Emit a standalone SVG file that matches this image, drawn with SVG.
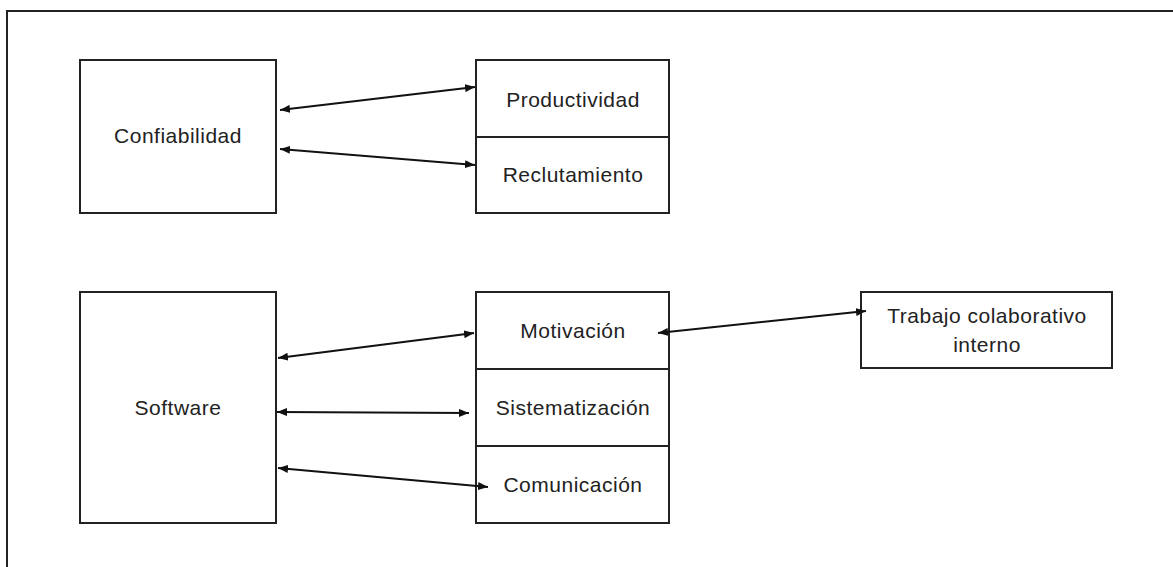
<svg xmlns="http://www.w3.org/2000/svg" width="1173" height="567" viewBox="0 0 1173 567">
  <defs>
    <style>
      .box { fill: #ffffff; stroke: #222222; stroke-width: 2; }
      .div { stroke: #222222; stroke-width: 2; }
      .frame { fill: none; stroke: #222222; stroke-width: 2; }
      .lbl { font-family: "Liberation Sans", Arial, sans-serif; font-size: 21px; letter-spacing: 0.5px; fill: #222222; text-anchor: middle; }
      .conn { stroke: #111111; stroke-width: 2; fill: none; marker-start: url(#tip); marker-end: url(#tip); }
    </style>
    <marker id="tip" viewBox="0 0 10 8" refX="10" refY="4" markerWidth="10" markerHeight="8" markerUnits="userSpaceOnUse" orient="auto-start-reverse">
      <path d="M0,0 L10,4 L0,8 Z" fill="#111111"/>
    </marker>
  </defs>

  <rect width="1173" height="567" fill="#ffffff"/>
  <!-- page frame: top and left edges only -->
  <path class="frame" d="M7,567 V11 H1173"/>

  <g id="confiabilidad">
    <rect class="box" x="80" y="60" width="196" height="153"/>
    <text class="lbl" x="178" y="143">Confiabilidad</text>
  </g>

  <g id="productividad">
    <rect class="box" x="476" y="60" width="193" height="77"/>
    <text class="lbl" x="573" y="107">Productividad</text>
  </g>

  <g id="reclutamiento">
    <rect class="box" x="476" y="137" width="193" height="76"/>
    <text class="lbl" x="573" y="182">Reclutamiento</text>
  </g>

  <g id="software">
    <rect class="box" x="80" y="292" width="196" height="231"/>
    <text class="lbl" x="178" y="415">Software</text>
  </g>

  <g id="motivacion">
    <rect class="box" x="476" y="292" width="193" height="77"/>
    <text class="lbl" x="573" y="338">Motivación</text>
  </g>

  <g id="sistematizacion">
    <rect class="box" x="476" y="369" width="193" height="77"/>
    <text class="lbl" x="573" y="415">Sistematización</text>
  </g>

  <g id="comunicacion">
    <rect class="box" x="476" y="446" width="193" height="77"/>
    <text class="lbl" x="573" y="492">Comunicación</text>
  </g>

  <g id="trabajo">
    <rect class="box" x="861" y="292" width="251" height="76"/>
    <text class="lbl" x="987" y="323">Trabajo colaborativo</text>
    <text class="lbl" x="987" y="352">interno</text>
  </g>

  <g id="connectors">
    <line class="conn" x1="280" y1="110" x2="475" y2="87"/>
    <line class="conn" x1="280" y1="149" x2="475" y2="165"/>
    <line class="conn" x1="278" y1="358" x2="474" y2="333"/>
    <line class="conn" x1="277" y1="412" x2="469" y2="413"/>
    <line class="conn" x1="278" y1="468" x2="488" y2="487"/>
    <line class="conn" x1="658" y1="333" x2="866" y2="311"/>
  </g>
</svg>
